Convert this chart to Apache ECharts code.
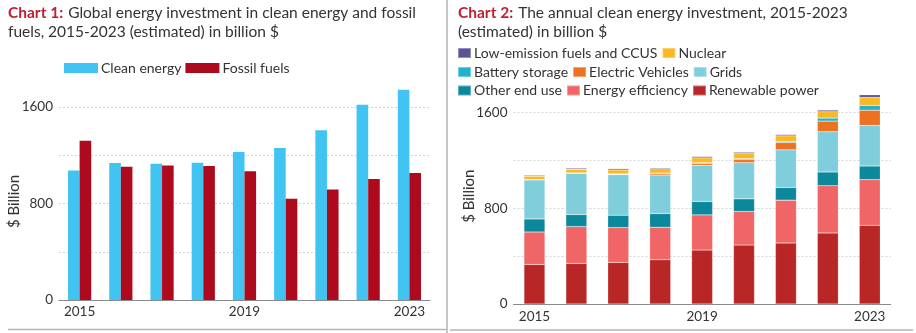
<!DOCTYPE html>
<html>
<head>
<meta charset="utf-8">
<script src="https://cdn.jsdelivr.net/npm/echarts@6/dist/echarts.min.js"></script>
<style>
  html, body { margin: 0; padding: 0; background: #fff; }
  #chart { width: 916px; height: 333px; }
</style>
</head>
<body>
<div id="chart"></div>
<script>
// Years shown on both panels
const years = ['2015', '2016', '2017', '2018', '2019', '2020', '2021', '2022', '2023'];

// Chart 1: total investment, billion $
const cleanEnergy = [1074, 1136, 1130, 1138, 1227, 1260, 1409, 1619, 1743];
const fossilFuels = [1321, 1105, 1116, 1111, 1069, 840, 917, 1003, 1053];

// Chart 2: clean energy investment by segment, billion $ (stacked bottom to top)
const renewablePower = [330, 338, 347, 369, 450, 492, 509, 593, 657];
const energyEfficiency = [271, 308, 291, 272, 294, 280, 358, 394, 381];
const otherEndUse = [109, 101, 103, 114, 112, 106, 106, 115, 114];
const grids = [326, 344, 339, 322, 302, 302, 314, 336, 339];
const electricVehicles = [2, 3, 4, 14, 14, 25, 61, 89, 127];
const batteryStorage = [1, 1, 2, 2, 8, 9, 9, 25, 40];
const nuclear = [28, 30, 33, 36, 40, 42, 47, 53, 66];
const lowEmissionFuels = [8, 9, 11, 8, 11, 11, 11, 14, 23];

// Value-axis tick labels that are printed
const yTickLabels = [0, 800, 1600];

const FONT = 'Lato';
const TEXT = '#333';
const RED = '#c21f32';

function valueAxis(gridIndex, namePadding) {
  return {
    type: 'value',
    gridIndex: gridIndex,
    min: 0,
    max: 1800,
    interval: 400,
    name: '$ Billion',
    nameLocation: 'middle',
    nameGap: 37,
    nameMoveOverlap: false,
    nameTextStyle: { fontFamily: FONT, fontSize: 15, color: TEXT, padding: namePadding },
    axisLine: { show: false },
    axisTick: { show: false },
    axisLabel: {
      margin: 6,
      fontFamily: FONT, fontSize: 13.5, color: TEXT,
      showMaxLabel: false,
      formatter: v => (yTickLabels.indexOf(v) >= 0 ? String(v) : '')
    },
    splitLine: {
      show: true,
      showMinLine: false,
      showMaxLine: false,
      lineStyle: { color: '#d4d4d4', type: [2, 2], width: 1 }
    }
  };
}

function categoryAxis(gridIndex, margin) {
  return {
    type: 'category',
    gridIndex: gridIndex,
    data: years,
    axisLine: { show: true, lineStyle: { color: '#8a8a8a', width: 1 } },
    axisTick: { show: false },
    axisLabel: {
      interval: 3, margin: margin,
      fontFamily: FONT, fontSize: 13.5, color: TEXT
    }
  };
}

const segBorder = { borderColor: 'rgba(255,255,255,0.35)', borderWidth: 0.5 };

function stackSeries(name, data, color) {
  return {
    name: name, type: 'bar', stack: 'clean', data: data,
    xAxisIndex: 1, yAxisIndex: 1,
    barWidth: 21,
    itemStyle: Object.assign({ color: color }, segBorder)
  };
}

const legendText = { fontFamily: FONT, fontSize: 14, color: TEXT, padding: [0, 0, 0, -2] };

const titleRich = {
  b: { fontFamily: FONT, fontSize: 15.5, fontWeight: 'bold', color: RED, lineHeight: 19 },
  n: { fontFamily: FONT, fontSize: 15.5, fontWeight: 'normal', color: TEXT, lineHeight: 19 }
};

const option = {
  animation: false,
  backgroundColor: '#fff',
  title: [
    {
      left: 8, top: 3, padding: 0,
      text: '{b|Chart 1:} {n|Global energy investment in clean energy and fossil}\n{n|fuels, 2015-2023 (estimated) in billion $}',
      textStyle: { fontWeight: 'normal', rich: titleRich }
    },
    {
      left: 458, top: 3, padding: 0,
      text: '{b|Chart 2:} {n|The annual clean energy investment, 2015-2023}\n{n|(estimated) in billion $}',
      textStyle: { fontWeight: 'normal', rich: titleRich }
    }
  ],
  legend: [
    {
      left: 64, top: 61, padding: 0, itemWidth: 34, itemHeight: 10, itemGap: 4,
      icon: 'rect', textStyle: legendText,
      data: ['Clean energy', 'Fossil fuels']
    },
    {
      left: 457, top: 46, padding: 0, itemWidth: 13, itemHeight: 10, itemGap: 4,
      icon: 'rect', textStyle: legendText,
      data: ['Low-emission fuels and CCUS', 'Nuclear']
    },
    {
      left: 457, top: 65, padding: 0, itemWidth: 13, itemHeight: 10, itemGap: 4,
      icon: 'rect', textStyle: legendText,
      data: ['Battery storage', 'Electric Vehicles', 'Grids']
    },
    {
      left: 457, top: 83.5, padding: 0, itemWidth: 13, itemHeight: 10, itemGap: 4,
      icon: 'rect', textStyle: legendText,
      data: ['Other end use', 'Energy efficiency', 'Renewable power']
    }
  ],
  grid: [
    { left: 59, right: 486, top: 83, bottom: 33 },
    { left: 513.5, right: 25.3, top: 88.4, bottom: 29 }
  ],
  xAxis: [categoryAxis(0, 5), categoryAxis(1, 6)],
  yAxis: [valueAxis(0, [0, 20, 0, 0]), valueAxis(1, 0)],
  series: [
    {
      name: 'Clean energy', type: 'bar', data: cleanEnergy,
      xAxisIndex: 0, yAxisIndex: 0, barWidth: 11.6, barGap: '0%',
      itemStyle: { color: '#41c4f1' }
    },
    {
      name: 'Fossil fuels', type: 'bar', data: fossilFuels,
      xAxisIndex: 0, yAxisIndex: 0, barWidth: 11.6, barGap: '0%',
      itemStyle: { color: '#ae0a1d' }
    },
    stackSeries('Renewable power', renewablePower, '#b82626'),
    stackSeries('Energy efficiency', energyEfficiency, '#f06565'),
    stackSeries('Other end use', otherEndUse, '#0b889b'),
    stackSeries('Grids', grids, '#80cedb'),
    stackSeries('Electric Vehicles', electricVehicles, '#ee7021'),
    stackSeries('Battery storage', batteryStorage, '#1fb3cb'),
    stackSeries('Nuclear', nuclear, '#fbb825'),
    stackSeries('Low-emission fuels and CCUS', lowEmissionFuels, '#5a5592')
  ],
  graphic: [
    { type: 'line', shape: { x1: 447, y1: 0, x2: 447, y2: 333 }, style: { stroke: '#b5b5b5', lineWidth: 1.5 } },
    { type: 'line', shape: { x1: 8, y1: 329.5, x2: 447, y2: 329.5 }, style: { stroke: '#b5b5b5', lineWidth: 1.5 } },
    { type: 'line', shape: { x1: 450, y1: 330, x2: 913, y2: 330 }, style: { stroke: '#b5b5b5', lineWidth: 1.5 } }
  ]
};

const chart = echarts.init(document.getElementById('chart'), null, { renderer: 'canvas' });
chart.setOption(option);
</script>
</body>
</html>
